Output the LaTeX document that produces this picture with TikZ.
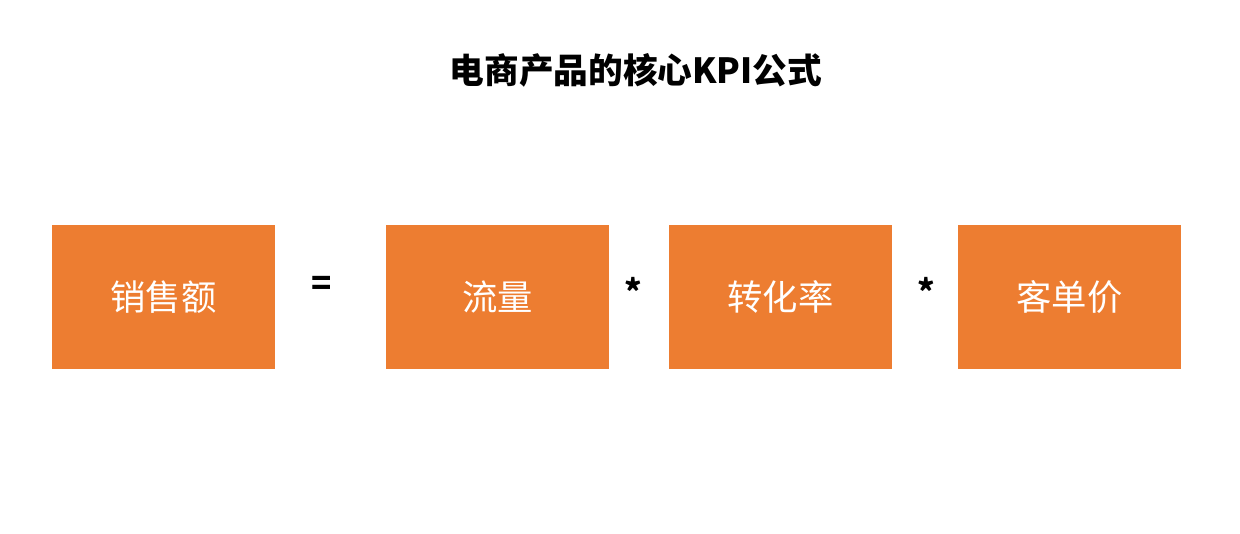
\documentclass[tikz,border=0pt]{standalone}
\usepackage{fontspec}
\setmainfont{Noto Sans CJK SC}
\definecolor{boxorange}{HTML}{ED7D31}
\begin{document}
\begin{tikzpicture}[x=0.75pt,y=-0.75pt,
  kpibox/.style={fill=boxorange,draw=none,minimum width=223*0.75pt,minimum height=144*0.75pt,inner sep=0pt,text=white,font=\fontsize{26.5}{30}\selectfont},
  opsym/.style={font=\bfseries\fontsize{25}{28}\selectfont,text=black,inner sep=0pt}]
\useasboundingbox (0,0) rectangle (1240,534);
\node[font=\bfseries\fontsize{26}{30}\selectfont] (title) at (636,70) {电商产品的核心KPI公式};
\node[kpibox] (sales) at (163.5,297) {销售额};
\node[kpibox] (traffic) at (497.5,297) {流量};
\node[kpibox] (conv) at (780.5,297) {转化率};
\node[kpibox] (price) at (1069.5,297) {客单价};
\node[opsym] (eq) at (322,286) {=};
\node[opsym] (m1) at (633,291) {*};
\node[opsym] (m2) at (926,291) {*};
\end{tikzpicture}
\end{document}
